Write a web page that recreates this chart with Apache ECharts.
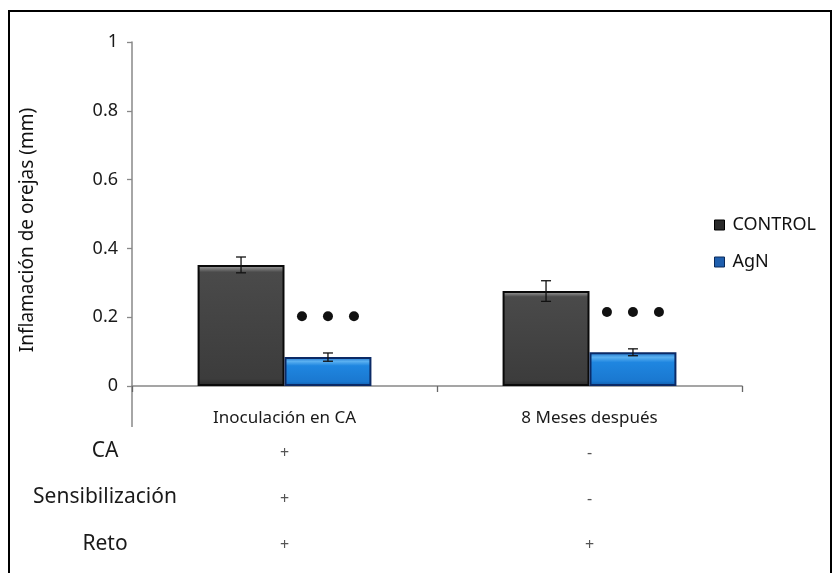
<!DOCTYPE html>
<html>
<head>
<meta charset="utf-8">
<script src="https://cdn.jsdelivr.net/npm/echarts@6/dist/echarts.min.js"></script>
<style>html,body{margin:0;padding:0;background:#fff;}#c{width:837px;height:573px;}</style>
</head>
<body>
<div id="c"></div>
<script>
var categories = ['Inoculación en CA', '8 Meses después'];
var seriesNames = ['CONTROL', 'AgN'];
var controlValues = [0.352, 0.276];
var controlErrors = [0.023, 0.030];
var agnValues = [0.084, 0.098];
var agnErrors = [0.012, 0.010];
var significanceLevels = [0.203, 0.215];
var rowLabels = ['CA', 'Sensibilización', 'Reto'];
var rowMarks = [['+', '-'], ['+', '-'], ['+', '+']];
var yTicks = [0, 0.2, 0.4, 0.6, 0.8, 1];

var FONT = '"Noto Sans", sans-serif';
var chart = echarts.init(document.getElementById('c'));
var CAT_GAP = 0.43;

function errRender(seriesIdx, values, errors) {
  return function (params, api) {
    var i = params.dataIndex;
    var band = api.size([1, 0])[0];
    var barW = band * (1 - CAT_GAP) / 2;
    var c = api.coord([i, values[i]]);
    var x = c[0] + (seriesIdx === 0 ? -barW / 2 : barW / 2);
    var top = api.coord([i, values[i] + errors[i]])[1];
    var bot = api.coord([i, values[i] - errors[i]])[1];
    var st = { stroke: '#111', lineWidth: 1.3 };
    return { type: 'group', children: [
      { type: 'line', shape: { x1: x, y1: top, x2: x, y2: bot }, style: st },
      { type: 'line', shape: { x1: x - 5, y1: top, x2: x + 5, y2: top }, style: st },
      { type: 'line', shape: { x1: x - 5, y1: bot, x2: x + 5, y2: bot }, style: st }
    ]};
  };
}

function dotsRender(params, api) {
  var i = params.dataIndex;
  var band = api.size([1, 0])[0];
  var barW = band * (1 - CAT_GAP) / 2;
  var c = api.coord([i, significanceLevels[i]]);
  var cx = c[0] + barW / 2;
  var kids = [];
  [-26, 0, 26].forEach(function (d) {
    kids.push({ type: 'circle', shape: { cx: cx + d, cy: c[1], r: 5 }, style: { fill: '#111' } });
  });
  return { type: 'group', children: kids };
}

var option = {
  animation: false,
  backgroundColor: '#fff',
  textStyle: { fontFamily: FONT },
  grid: { left: 132, right: 95, top: 42, bottom: 187 },
  legend: {
    orient: 'vertical', left: 709, top: 211,
    itemWidth: 10, itemHeight: 10, itemGap: 19, icon: 'rect',
    data: [
      { name: 'CONTROL', itemStyle: { color: '#2a2a2a', borderColor: '#000', borderWidth: 1 } },
      { name: 'AgN', itemStyle: { color: '#1f5fae', borderColor: '#0a2a5a', borderWidth: 1 } }
    ],
    textStyle: { fontFamily: FONT, fontSize: 18, color: '#111', padding: [0, 0, 0, 3] }
  },
  xAxis: {
    type: 'category', data: categories,
    axisLine: { lineStyle: { color: '#888', width: 1.5 } },
    axisTick: { show: true, length: 6, lineStyle: { color: '#666', width: 1.3 } },
    axisLabel: {
      margin: 20, interval: 0,
      formatter: function (v, idx) {
        return '{n|' + v + '}\n' + rowMarks.map(function (r) { return '{r|' + r[idx] + '}'; }).join('\n');
      },
      rich: {
        n: { fontFamily: FONT, fontSize: 17, color: '#1a1a1a', lineHeight: 24 },
        r: { fontFamily: FONT, fontSize: 16, color: '#555', lineHeight: 46 }
      }
    }
  },
  yAxis: {
    type: 'value', min: 0, max: 1, interval: 0.2,
    axisLine: { show: true, lineStyle: { color: '#888', width: 1.5 } },
    axisTick: { show: true, length: 5, lineStyle: { color: '#888', width: 1.3 } },
    splitLine: { show: false },
    axisLabel: {
      margin: 14, fontFamily: FONT, fontSize: 18, color: '#1a1a1a',
      formatter: function (v) { return yTicks.indexOf(+v.toFixed(1)) >= 0 ? String(+v.toFixed(1)) : ''; }
    }
  },
  series: [
    {
      name: seriesNames[0], type: 'bar', data: controlValues,
      barGap: '0%', barCategoryGap: (CAT_GAP * 100) + '%',
      itemStyle: {
        borderColor: '#0a0a0a', borderWidth: 2,
        color: new echarts.graphic.LinearGradient(0, 0, 0, 1, [
          { offset: 0, color: '#3a3a3a' }, { offset: 0.02, color: '#8a8a8a' },
          { offset: 0.06, color: '#4a4a4a' }, { offset: 0.94, color: '#3c3c3c' }, { offset: 1, color: '#2a2a2a' }
        ])
      },
      z: 2
    },
    {
      name: seriesNames[1], type: 'bar', data: agnValues,
      barGap: '0%', barCategoryGap: (CAT_GAP * 100) + '%',
      itemStyle: {
        borderColor: '#0b2a66', borderWidth: 2,
        color: new echarts.graphic.LinearGradient(0, 0, 0, 1, [
          { offset: 0, color: '#1a6fc8' }, { offset: 0.15, color: '#5ab0f0' },
          { offset: 0.3, color: '#1f86e0' }, { offset: 0.85, color: '#1a78d0' }, { offset: 1, color: '#0f5aa8' }
        ])
      },
      z: 2
    },
    {
      type: 'custom', data: controlValues.map(function (v, i) { return [i, v]; }),
      renderItem: errRender(0, controlValues, controlErrors), z: 5, silent: true
    },
    {
      type: 'custom', data: agnValues.map(function (v, i) { return [i, v]; }),
      renderItem: errRender(1, agnValues, agnErrors), z: 5, silent: true
    },
    {
      type: 'custom', data: significanceLevels.map(function (v, i) { return [i, v]; }),
      renderItem: dotsRender, z: 5, silent: true
    }
  ]
};
chart.setOption(option);

var p0 = chart.convertToPixel({ gridIndex: 0 }, [0, 0]);
var gridRect = chart.getModel().getComponent('grid').coordinateSystem.getRect();
var axisX = gridRect.x;
var zeroY = p0[1];
var g = [
  { type: 'rect', shape: { x: 9, y: 11, width: 822, height: 570 }, style: { fill: 'none', stroke: '#000', lineWidth: 2 }, z: 0 },
  { type: 'line', shape: { x1: axisX, y1: zeroY, x2: axisX, y2: zeroY + 41 }, style: { stroke: '#888', lineWidth: 1.5 } },
  { type: 'text', x: 28, y: 230, rotation: Math.PI / 2,
    style: { text: 'Inflamación de orejas (mm)', fontFamily: FONT, fontSize: 19, fill: '#111', align: 'center', verticalAlign: 'middle' } }
];
var rowY = [451, 497, 544];
rowLabels.forEach(function (t, i) {
  g.push({ type: 'text', x: 105, y: rowY[i], style: { text: t, fontFamily: FONT, fontSize: 21, fill: '#1a1a1a', align: 'center', verticalAlign: 'middle' } });
});
chart.setOption({ graphic: g });
</script>
</body>
</html>
